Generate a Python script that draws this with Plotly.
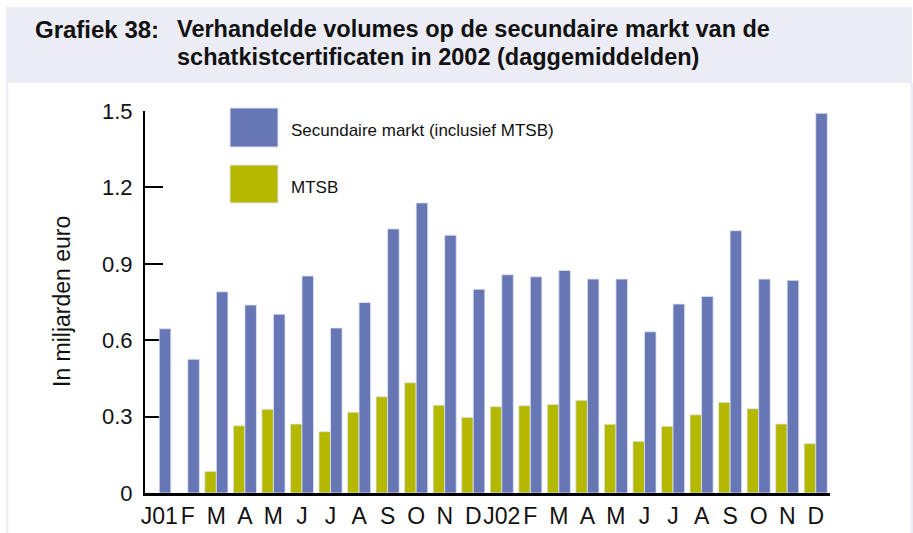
import plotly.graph_objects as go

# Monthly daily averages, in billions of euro
months = ["J01", "F", "M", "A", "M", "J", "J", "A", "S", "O", "N", "D",
          "J02", "F", "M", "A", "M", "J", "J", "A", "S", "O", "N", "D"]
secundaire = [0.645, 0.525, 0.790, 0.738, 0.702, 0.852, 0.648, 0.748, 1.037, 1.139, 1.012, 0.800,
              0.857, 0.849, 0.874, 0.840, 0.840, 0.633, 0.742, 0.772, 1.030, 0.840, 0.835, 1.491]
mtsb = [None, None, 0.085, 0.264, 0.329, 0.271, 0.241, 0.317, 0.378, 0.433, 0.345, 0.297,
        0.339, 0.343, 0.348, 0.364, 0.270, 0.203, 0.262, 0.307, 0.356, 0.331, 0.271, 0.194]
y_ticks = [0, 0.3, 0.6, 0.9, 1.2, 1.5]
y_tick_text = ["0", "0.3", "0.6", "0.9", "1.2", "1.5"]

name_sec = "Secundaire markt (inclusief MTSB)"
name_mtsb = "MTSB"

BLUE = "#6777B5"
GREEN = "#B4B900"
EDGE = "rgba(225,228,242,1)"
BAND = "#ECECF5"
FONT = "Liberation Sans, Arial, sans-serif"

W, H = 913, 533
L, R, T, B = 145, 83, 111, 40
PW, PH = W - L - R, H - T - B


def px(x):
    return (x - L) / PW


def py(y):
    return (H - B - y) / PH


xs = list(range(len(months)))

fig = go.Figure()
fig.add_trace(go.Bar(x=xs, y=mtsb, name=name_mtsb, marker=dict(color=GREEN, line=dict(color=EDGE, width=0.8))))
fig.add_trace(go.Bar(x=xs, y=secundaire, name=name_sec, marker=dict(color=BLUE, line=dict(color=EDGE, width=0.8))))

shapes = [
    # title band and side strips of the frame
    dict(type="rect", xref="paper", yref="paper", x0=px(6), x1=px(912), y0=py(83), y1=py(7),
         fillcolor=BAND, line=dict(width=0), layer="below"),
    dict(type="rect", xref="paper", yref="paper", x0=px(6), x1=px(8.5), y0=py(533), y1=py(83),
         fillcolor=BAND, line=dict(width=0), layer="below"),
    dict(type="rect", xref="paper", yref="paper", x0=px(910.5), x1=px(913), y0=py(533), y1=py(83),
         fillcolor=BAND, line=dict(width=0), layer="below"),
    # legend swatches
    dict(type="rect", xref="paper", yref="paper", x0=px(230), x1=px(278), y0=py(147), y1=py(108),
         fillcolor=BLUE, line=dict(color=EDGE, width=1)),
    dict(type="rect", xref="paper", yref="paper", x0=px(230), x1=px(278), y0=py(203), y1=py(165),
         fillcolor=GREEN, line=dict(color=EDGE, width=1)),
]

annotations = [
    dict(text="<b>Grafiek 38:</b>", xref="paper", yref="paper", x=px(33), y=py(29),
         xanchor="left", yanchor="middle", showarrow=False, font=dict(size=24, color="#111111", family=FONT)),
    dict(text="<b>Verhandelde volumes op de secundaire markt van de</b>", xref="paper", yref="paper",
         x=px(175), y=py(29), xanchor="left", yanchor="middle", showarrow=False,
         font=dict(size=23.5, color="#111111", family=FONT)),
    dict(text="<b>schatkistcertificaten in 2002 (daggemiddelden)</b>", xref="paper", yref="paper",
         x=px(175), y=py(57), xanchor="left", yanchor="middle", showarrow=False,
         font=dict(size=23.5, color="#111111", family=FONT)),
    dict(text="In miljarden euro", xref="paper", yref="paper", x=px(62), y=py(302), textangle=-90,
         xanchor="center", yanchor="middle", showarrow=False, font=dict(size=23, color="#111111", family=FONT)),
    dict(text=name_sec, xref="paper", yref="paper", x=px(289), y=py(130), xanchor="left", yanchor="middle",
         showarrow=False, font=dict(size=17, color="#111111", family=FONT)),
    dict(text=name_mtsb, xref="paper", yref="paper", x=px(289), y=py(187), xanchor="left", yanchor="middle",
         showarrow=False, font=dict(size=17, color="#111111", family=FONT)),
]

fig.update_layout(
    width=W, height=H,
    margin=dict(l=L, r=R, t=T, b=B, pad=0, autoexpand=False),
    paper_bgcolor="white", plot_bgcolor="white",
    barmode="group", bargap=0.19, bargroupgap=0,
    showlegend=False,
    font=dict(family=FONT, color="#111111"),
    shapes=shapes, annotations=annotations,
    xaxis=dict(range=[-0.5, 23.5], tickvals=xs, ticktext=months, ticks="", showgrid=False,
               zeroline=False, showline=True, linecolor="black", linewidth=3, layer="below traces",
               tickfont=dict(size=23, color="#111111", family=FONT), tickangle=0, ticklabelstandoff=0,
               automargin=False, fixedrange=True),
    yaxis=dict(range=[0, 1.5], tickvals=y_ticks, ticktext=y_tick_text, ticks="inside", ticklen=18,
               tickwidth=2, tickcolor="black", showgrid=False, zeroline=False, showline=True,
               linecolor="black", linewidth=2, layer="below traces",
               tickfont=dict(size=22, color="#111111", family=FONT), ticklabelstandoff=6,
               automargin=False, fixedrange=True),
)

fig.write_html("out.html")
